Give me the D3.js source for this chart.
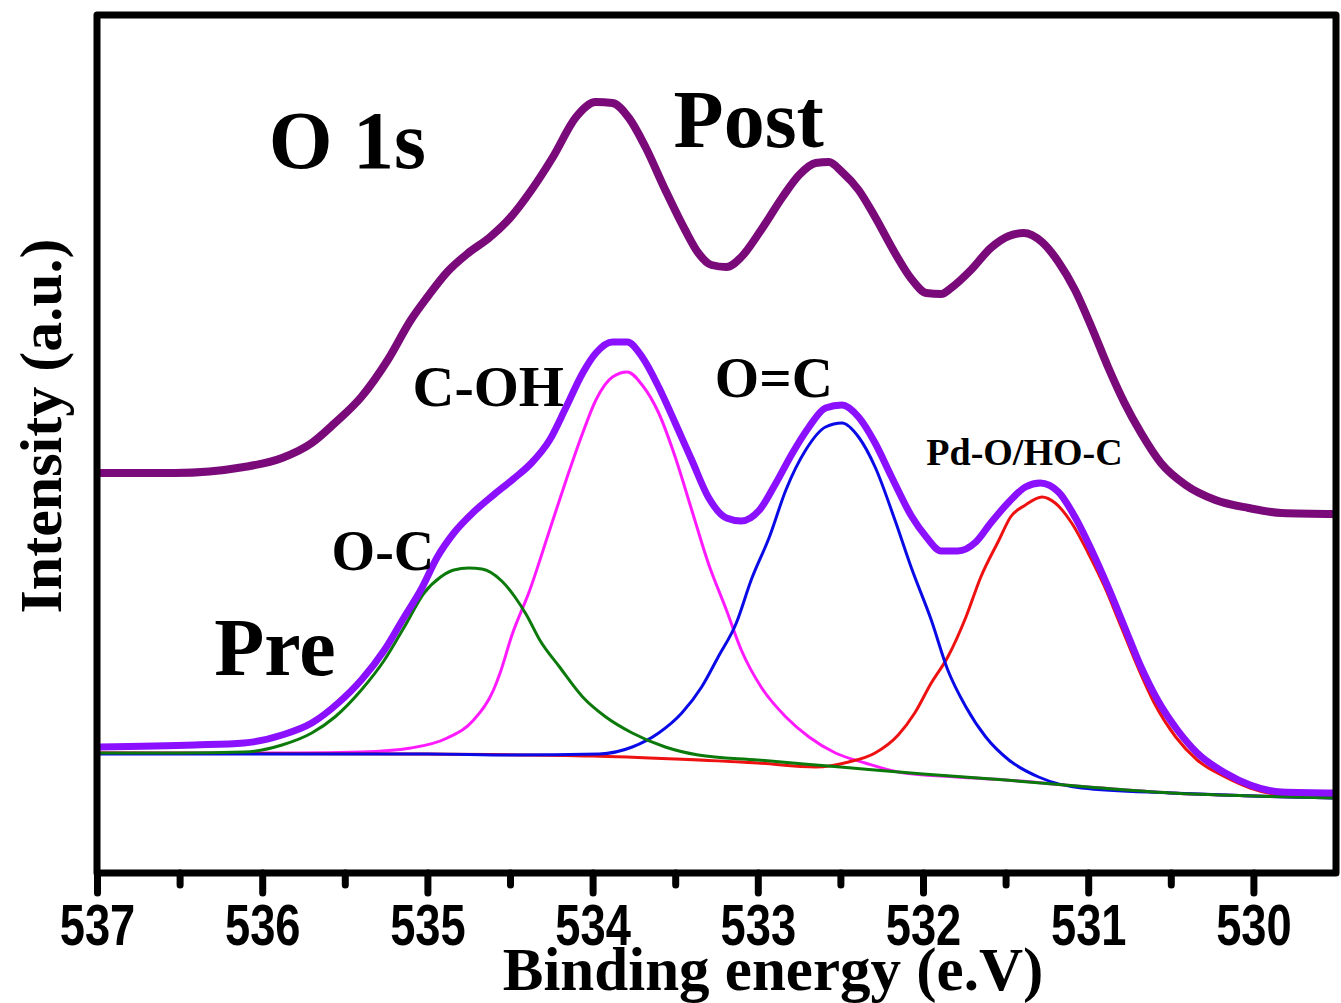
<!DOCTYPE html>
<html>
<head>
<meta charset="utf-8">
<script src="https://cdn.jsdelivr.net/npm/d3@7"></script>
<style>
  body { margin: 0; background: #fff; }
  svg { display: block; }
</style>
</head>
<body>
<div id="chart"></div>
<script>
// O 1s XPS spectra: [binding energy (eV), intensity (a.u.)]
const postSpectrum = [
  [536.99,400],[536.53,400],[536.11,406],[535.88,415],[535.70,430],[535.56,450],[535.40,476],
  [535.24,513],[535.10,553],[535.00,576],[534.88,601],[534.76,619],[534.62,636],[534.50,655],
  [534.37,683],[534.24,716],[534.10,756],[533.98,771],[533.88,770],[533.78,755],[533.68,726],
  [533.56,683],[533.44,643],[533.36,620],[533.28,608],[533.19,606],[533.10,616],[532.98,643],
  [532.85,676],[532.75,698],[532.65,710],[532.57,711],[532.49,701],[532.39,683],[532.29,656],
  [532.17,620],[532.07,594],[531.98,580],[531.89,579],[531.83,585],[531.71,603],[531.59,625],
  [531.48,637],[531.39,640],[531.28,631],[531.18,611],[531.08,583],[530.98,546],[530.88,506],
  [530.78,470],[530.68,440],[530.56,410],[530.41,388],[530.23,373],[530.03,365],[529.83,360],
  [529.50,359]
];

const preEnvelope = [
  [536.99,126],[536.41,128],[536.11,130],[535.88,138],[535.70,150],[535.54,170],[535.40,193],
  [535.26,223],[535.14,256],[535.04,283],[534.94,316],[534.84,340],[534.72,361],[534.60,378],
  [534.48,394],[534.37,410],[534.26,433],[534.16,466],[534.06,500],[533.98,520],[533.88,531],
  [533.79,531],[533.70,516],[533.60,486],[533.50,450],[533.40,413],[533.30,376],[533.19,355],
  [533.10,352],[532.99,363],[532.89,390],[532.79,420],[532.69,446],[532.59,465],[532.49,468],
  [532.39,456],[532.29,430],[532.19,396],[532.07,357],[531.98,336],[531.89,322],[531.79,322],
  [531.68,331],[531.59,350],[531.48,371],[531.38,386],[531.29,390],[531.18,381],[531.08,356],
  [530.98,323],[530.88,286],[530.78,246],[530.68,206],[530.58,173],[530.46,143],[530.34,120],
  [530.17,100],[530.02,88],[529.83,81],[529.50,80]
];

const peakOC = [
  [537.00,120],[536.50,120],[536.11,121],[535.88,128],[535.70,140],[535.56,156],[535.40,183],
  [535.26,213],[535.14,246],[535.02,280],[534.92,296],[534.84,303],[534.75,305],[534.67,304],
  [534.55,292],[534.47,276],[534.40,258],[534.32,233],[534.20,206],[534.06,176],[533.92,156],
  [533.76,140],[533.56,126],[533.36,118],[533.00,113],[532.50,106],[532.00,99],[531.50,93],
  [531.00,86],[530.50,80],[530.00,77],[529.50,75]
];

const peakCOH = [
  [537.00,120],[535.80,120],[535.40,121],[535.10,125],[534.88,135],[534.72,153],[534.60,183],
  [534.56,200],[534.49,237],[534.38,283],[534.26,343],[534.16,393],[534.06,440],[533.98,473],
  [533.88,496],[533.79,501],[533.70,488],[533.60,460],[533.50,416],[533.40,363],[533.30,310],
  [533.19,263],[533.10,223],[532.98,186],[532.83,156],[532.69,136],[532.53,120],[532.35,110],
  [532.15,101],[531.80,96],[531.50,93],[531.00,86],[530.50,80],[530.00,77],[529.50,75]
];

const peakOdC = [
  [537.00,119],[535.00,119],[534.50,118],[533.96,119],[533.76,126],[533.60,140],[533.46,160],
  [533.34,186],[533.24,216],[533.13,250],[533.04,293],[532.93,336],[532.83,383],[532.71,423],
  [532.59,446],[532.49,450],[532.39,436],[532.29,406],[532.17,353],[532.07,305],[531.95,253],
  [531.85,203],[531.74,166],[531.62,136],[531.48,113],[531.30,96],[531.04,85],[530.50,80],
  [530.00,77],[529.50,75]
];

const peakPdO = [
  [537.00,120],[535.00,119],[534.00,117],[533.50,114],[533.00,110],[532.65,106],[532.45,111],
  [532.29,120],[532.15,138],[532.05,160],[531.95,190],[531.85,216],[531.74,256],[531.65,296],
  [531.54,333],[531.47,356],[531.38,368],[531.28,376],[531.20,370],[531.10,350],[531.00,320],
  [530.90,286],[530.80,246],[530.70,206],[530.60,170],[530.47,136],[530.34,113],[530.17,96],
  [530.02,85],[529.83,78],[529.50,76]
];

const majorTicks = [537, 536, 535, 534, 533, 532, 531, 530];
const minorTicks = [536.5, 535.5, 534.5, 533.5, 532.5, 531.5, 530.5];

const labels = [
  {text: 'O 1s', e: 535.96, i: 705, size: 82},
  {text: 'Post', e: 533.51, i: 726, size: 82},
  {text: 'Pre', e: 536.29, i: 198, size: 82},
  {text: 'C-OH', e: 535.09, i: 467, size: 58},
  {text: 'O=C', e: 533.26, i: 476, size: 57},
  {text: 'O-C', e: 535.58, i: 303, size: 56},
  {text: 'Pd-O/HO-C', e: 531.98, i: 408, size: 38}
];

const width = 1341, height = 1003;
const margin = {top: 15, right: 5, bottom: 130, left: 97};
const plotW = width - margin.left - margin.right;   // 1239
const plotH = height - margin.top - margin.bottom;  // 858

const x = d3.scaleLinear().domain([537, 529.5]).range([0, plotW]);
const y = d3.scaleLinear().domain([0, 858]).range([plotH, 0]);

const svg = d3.select('#chart').append('svg')
    .attr('width', width).attr('height', height);

svg.append('defs').append('clipPath').attr('id', 'clip')
  .append('rect').attr('width', plotW).attr('height', plotH);

const g = svg.append('g').attr('transform', 'translate(' + margin.left + ',' + margin.top + ')');

const line = d3.line()
    .x((d) => x(d[0]))
    .y((d) => y(d[1]))
    .curve(d3.curveMonotoneX);

const curves = g.append('g').attr('clip-path', 'url(#clip)');
const series = [
  {data: peakCOH, color: '#ff1aff', w: 3},
  {data: peakPdO, color: '#ee1111', w: 3},
  {data: peakOdC, color: '#0a0ae6', w: 3},
  {data: peakOC, color: '#0b7a0b', w: 3},
  {data: preEnvelope, color: '#8a10ff', w: 7},
  {data: postSpectrum, color: '#7a0a7a', w: 8}
];
series.forEach((s) => {
  curves.append('path').attr('d', line(s.data))
    .attr('fill', 'none').attr('stroke', s.color).attr('stroke-width', s.w)
    .attr('stroke-linejoin', 'round');
});

// frame
g.append('rect').attr('width', plotW).attr('height', plotH)
  .attr('fill', 'none').attr('stroke', '#000').attr('stroke-width', 7)
  .attr('stroke-linejoin', 'round');

// bottom axis, major + minor ticks
const xAxis = d3.axisBottom(x).tickValues(majorTicks).tickSize(20).tickFormat(d3.format('d'));
const ax = g.append('g').attr('transform', 'translate(0,' + plotH + ')').call(xAxis);
ax.select('.domain').remove();
ax.selectAll('.tick line').attr('stroke', '#000').attr('stroke-width', 7).attr('stroke-linecap', 'round');
ax.selectAll('.tick text')
    .attr('y', 72).attr('dy', 0)
    .attr('fill', '#000')
    .style('font-family', 'Liberation Sans, Arial, sans-serif')
    .style('font-weight', 'bold').style('font-size', '58px')
    .attr('transform', 'scale(0.78,1)');

const minor = g.append('g').attr('transform', 'translate(0,' + plotH + ')')
  .call(d3.axisBottom(x).tickValues(minorTicks).tickSize(12).tickFormat(''));
minor.select('.domain').remove();
minor.selectAll('.tick line').attr('stroke', '#000').attr('stroke-width', 7).attr('stroke-linecap', 'round');

const serif = 'Liberation Serif, Times New Roman, serif';

// annotations
g.selectAll('.lbl').data(labels).enter().append('text')
  .attr('class', 'lbl')
  .attr('x', (d) => x(d.e)).attr('y', (d) => y(d.i))
  .style('font-family', serif).style('font-weight', 'bold')
  .style('font-size', (d) => d.size + 'px')
  .text((d) => d.text);

// axis titles
svg.append('text')
  .attr('x', 773).attr('y', 990).attr('text-anchor', 'middle')
  .style('font-family', serif).style('font-weight', 'bold').style('font-size', '61px')
  .text('Binding energy (e.V)');

svg.append('text')
  .attr('transform', 'translate(61,426) rotate(-90)').attr('text-anchor', 'middle')
  .style('font-family', serif).style('font-weight', 'bold').style('font-size', '60px')
  .text('Intensity (a.u.)');
</script>
</body>
</html>
